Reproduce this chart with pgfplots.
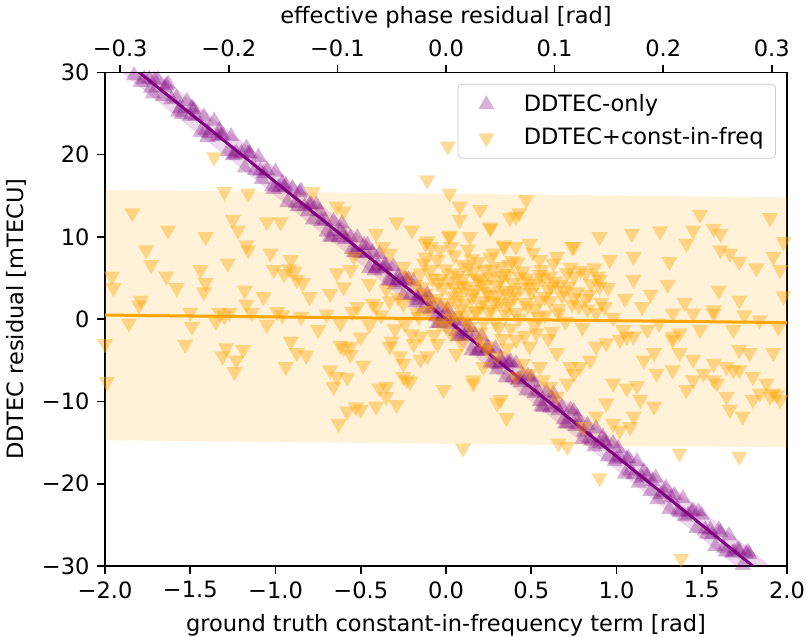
\documentclass[border=0pt]{standalone}
\usepackage{fontspec}
\setmainfont{DejaVu Sans}
\usepackage{pgfplots}
\pgfplotsset{compat=1.18}
\definecolor{mplorange}{HTML}{FFA500}
\definecolor{mplpurple}{HTML}{800080}

\pgfplotstableread{
x y
-1.83 29.6
-1.80 30.3
-1.77 29.2
-1.74 29.2
-1.72 27.4
-1.69 29.1
-1.66 27.1
-1.63 28.6
-1.61 26.7
-1.58 26.9
-1.55 24.9
-1.52 26.5
-1.50 24.7
-1.47 24.7
-1.44 22.7
-1.42 24.6
-1.39 22.6
-1.36 24.1
-1.34 22.2
-1.31 22.4
-1.28 20.4
-1.26 22.2
-1.23 20.2
-1.20 20.2
-1.18 18.4
-1.15 20.1
-1.12 18.1
-1.10 19.7
-1.07 17.7
-1.05 18.1
-1.02 16.1
-1.00 17.9
-0.98 16.0
-0.95 16.0
-0.93 14.2
-0.90 15.9
-0.88 14.1
-0.85 15.6
-0.83 13.7
-0.80 13.9
-0.78 12.1
-0.76 13.9
-0.73 11.9
-0.71 12.0
-0.68 10.0
-0.66 11.9
-0.63 9.9
-0.61 11.6
-0.59 9.7
-0.56 9.9
-0.54 8.1
-0.52 9.9
-0.50 8.0
-0.47 8.0
-0.45 6.2
-0.43 8.1
-0.41 6.2
-0.39 7.9
-0.37 6.1
-0.35 6.4
-0.33 4.6
-0.31 6.4
-0.29 4.5
-0.27 4.7
-0.25 2.9
-0.23 4.7
-0.21 2.9
-0.19 4.6
-0.17 2.7
-0.15 3.1
-0.13 1.3
-0.11 3.0
-0.09 1.2
-0.07 1.4
-0.05 -0.5
-0.03 1.4
-0.01 -0.4
0.01 1.2
0.03 -0.6
0.05 -0.2
0.07 -2.1
0.09 -0.3
0.11 -2.1
0.13 -2.0
0.15 -3.8
0.17 -1.9
0.19 -3.8
0.21 -2.1
0.23 -3.9
0.25 -3.6
0.27 -5.4
0.29 -3.6
0.31 -5.5
0.33 -5.3
0.35 -7.1
0.37 -5.3
0.39 -7.1
0.41 -5.4
0.43 -7.3
0.45 -6.9
0.47 -8.7
0.50 -7.1
0.52 -9.0
0.54 -8.8
0.56 -10.6
0.59 -8.9
0.61 -10.8
0.63 -9.1
0.66 -11.1
0.68 -10.7
0.71 -12.7
0.73 -11.0
0.76 -13.0
0.78 -12.8
0.80 -14.6
0.83 -12.9
0.85 -14.8
0.88 -13.3
0.90 -15.1
0.93 -14.9
0.95 -16.7
0.98 -15.1
1.00 -17.0
1.02 -16.8
1.05 -18.8
1.07 -16.9
1.10 -18.9
1.12 -17.3
1.15 -19.3
1.18 -19.1
1.20 -20.9
1.23 -19.3
1.26 -21.3
1.28 -21.1
1.31 -23.1
1.34 -21.4
1.36 -23.3
1.39 -21.8
1.42 -23.8
1.44 -23.4
1.47 -25.4
1.50 -23.8
1.52 -25.6
1.55 -25.6
1.58 -27.6
1.61 -25.9
1.63 -27.8
1.66 -26.3
1.69 -28.3
1.72 -28.1
1.74 -29.9
1.77 -28.3
1.80 -30.3
1.83 -30.3
-1.16 20.1
-1.08 17.0
-0.96 16.5
-0.87 13.7
-0.79 13.9
-0.70 10.6
-0.62 10.7
-0.55 8.5
-0.48 9.0
-0.42 5.9
-0.36 6.5
-0.30 4.2
-0.24 4.9
-0.18 2.0
-0.12 2.4
-0.06 0.3
0.00 0.8
0.06 -1.5
0.12 -1.0
0.18 -3.9
0.24 -3.5
0.30 -6.1
0.36 -5.3
0.42 -7.4
0.48 -6.9
0.55 -10.0
0.62 -9.7
0.70 -12.7
0.77 -11.9
0.84 -14.5
0.92 -14.3
0.99 -17.3
1.06 -17.0
1.13 -19.9
1.21 -19.7
1.29 -20.5
1.37 -23.5
1.45 -23.3
1.53 -26.1
1.60 -25.6
1.68 -28.4
1.76 -28.5
1.85 -30.1
-1.85 30.2
-1.25 19.9
-1.33 22.9
-1.41 23.0
-1.49 25.7
-1.57 25.2
-1.65 28.1
-1.73 28.1
-1.79 28.8
-1.71 29.0
-1.64 28.4
-1.56 25.6
-1.48 25.5
-1.40 22.1
-1.32 22.3
-1.24 20.0
-1.17 20.8
-1.09 18.0
-1.01 15.8
-0.94 16.2
-0.86 15.4
-0.81 13.1
-0.74 13.1
-0.67 10.0
-0.60 10.3
-0.53 8.1
-0.46 9.0
-0.40 6.5
-0.34 4.7
-0.28 5.2
-0.22 4.8
-0.16 2.3
-0.10 2.5
-0.04 -0.5
0.02 0.0
0.08 -2.0
0.14 -1.0
0.20 -3.5
0.26 -5.3
0.32 -4.8
0.38 -5.2
0.44 -7.7
0.51 -7.7
0.57 -10.7
0.64 -10.4
0.69 -12.2
0.75 -11.2
0.81 -13.7
0.87 -15.5
0.94 -15.2
1.01 -15.7
1.08 -18.4
1.16 -18.5
1.24 -21.9
1.32 -21.7
1.40 -24.0
1.48 -23.4
1.56 -26.2
1.64 -28.3
1.71 -28.0
1.78 -28.6
}\ddtecOnly

\pgfplotstableread{
x y
-1.84 12.9
-1.63 10.8
-1.76 8.4
-1.73 6.6
-1.96 5.2
-1.95 3.8
-1.79 2.3
-1.64 5.2
-1.58 3.8
-1.41 10.0
-1.44 6.0
-1.41 4.4
-1.42 3.3
-1.30 15.5
-1.36 19.7
-1.28 6.8
-1.25 12.1
-1.22 10.8
-1.18 3.5
-1.16 15.3
-1.16 8.4
-1.17 9.0
-1.07 2.7
-1.05 11.8
-1.03 8.0
-1.01 6.0
-1.86 -0.5
-1.80 1.7
-1.99 -7.6
-2.00 -3.0
-1.53 -3.1
-1.49 -0.9
-1.50 0.8
-1.35 -0.3
-1.33 0.8
-1.30 0.4
-1.29 -3.5
-1.23 -5.0
-1.19 -3.7
-1.31 -4.5
-1.24 -6.4
-1.17 1.8
-1.14 0.8
-1.05 -0.7
-1.27 0.8
-0.99 0.9
-0.96 0.5
-0.94 -5.8
-0.91 -2.7
-0.875 -4.1
-0.82 -4.4
-0.75 -1.3
-0.68 -6.2
-0.64 -7.0
-0.66 -8.2
-0.62 -3.2
-0.60 -3.5
-0.56 -4.3
-0.58 -7.1
-0.485 -5.6
-0.63 -12.7
-0.58 -11.2
-0.53 -10.7
-0.50 -11.0
-0.41 -10.6
-0.39 -8.4
-0.35 -9.4
-0.29 -10.4
-0.25 -7.0
-0.21 -7.6
-0.25 -5.4
-0.32 -2.7
-0.27 -4.5
-0.19 -3.0
-0.15 -4.9
-0.11 -4.5
-0.97 11.8
-0.91 7.2
-0.875 4.8
-0.84 4.4
-0.78 15.5
-0.64 13.7
-0.60 13.1
-0.80 2.7
-0.68 3.1
-0.64 5.6
-0.60 3.9
-0.56 6.0
-0.54 7.6
-0.41 10.4
-0.37 8.8
-0.29 11.8
-0.20 10.8
-0.11 16.9
-0.12 7.5
-0.12 9.2
-0.09 8.8
-0.035 8.4
-0.11 9.5
-0.09 6.0
-0.33 8.0
-0.25 6.4
-0.43 1.9
-0.33 2.2
-0.25 1.9
-0.95 5.5
-0.92 6.1
-0.89 5.8
-0.70 0.6
-0.55 0.9
-0.85 0.3
-0.45 -0.7
-0.38 0.5
-0.30 -1.2
-0.20 -1.8
-0.50 -2.2
-0.15 -2.1
-0.33 -3.3
-0.56 -3.3
-0.62 -0.5
-0.52 1.5
-0.41 1.5
-0.23 -7.4
-0.35 -8.2
-0.18 4.2
-0.15 5.6
-0.12 3.1
-0.10 1.0
-0.08 5.0
-0.06 2.5
-0.05 7.2
-0.04 -0.5
-0.02 3.8
0.00 6.1
0.01 1.5
0.02 4.6
0.03 -1.8
0.04 2.8
0.05 7.8
0.06 0.4
0.07 5.3
0.08 3.3
0.09 -2.9
0.10 6.6
0.11 1.9
0.12 4.0
0.13 8.5
0.14 -0.9
0.15 2.6
0.16 5.8
0.17 3.6
0.18 0.9
0.19 7.0
0.20 -1.6
0.21 4.5
0.22 2.2
0.23 6.0
0.24 -3.3
0.25 3.0
0.26 5.1
0.27 1.2
0.28 8.0
0.29 -0.4
0.30 4.1
0.31 2.0
0.32 6.4
0.33 -2.4
0.34 3.5
0.35 0.6
0.36 5.5
0.37 1.9
0.38 -1.1
0.39 4.4
0.40 2.7
0.42 6.9
0.43 0.1
0.44 3.8
0.46 -2.0
0.47 5.0
0.48 1.6
0.50 3.2
0.52 -0.8
0.53 4.3
0.55 2.3
0.56 6.0
0.58 0.5
0.60 3.6
0.62 -1.5
0.64 4.6
0.66 1.3
0.68 2.9
0.70 -0.3
0.72 4.0
0.74 1.8
0.77 3.3
0.80 -1.0
0.82 2.5
0.85 4.3
0.88 0.8
0.91 2.0
0.95 3.8
0.98 0.2
-0.16 0.3
-0.13 6.8
-0.07 -1.9
-0.03 4.9
0.00 -0.8
0.03 8.8
0.05 3.9
0.08 1.2
0.10 4.9
0.12 -0.3
0.15 7.3
0.17 1.0
0.19 4.8
0.22 -0.4
0.24 3.3
0.26 7.5
0.28 2.2
0.31 -1.0
0.33 5.3
0.36 3.1
0.39 7.1
0.41 0.8
0.45 5.8
0.49 3.9
0.51 8.1
0.54 0.3
0.57 5.0
0.61 2.2
0.63 6.8
0.67 4.2
0.71 5.6
0.75 2.6
0.79 5.9
0.83 1.2
0.87 6.2
0.82 5.6
-0.28 2.6
-0.22 5.2
-0.17 0.8
-0.14 3.9
-0.09 2.1
-0.05 4.4
-0.01 2.0
0.02 0.1
0.04 5.6
0.07 2.3
0.09 4.1
0.11 0.5
0.13 6.3
0.16 3.1
0.18 5.0
0.20 1.7
0.23 4.2
0.25 0.9
0.27 6.1
0.30 2.9
0.32 4.8
0.35 1.5
0.37 6.6
0.40 3.4
0.43 5.2
0.46 2.0
0.49 4.6
0.52 1.3
0.55 5.4
0.58 2.7
0.62 4.0
0.66 0.7
0.69 3.5
0.73 6.3
0.78 1.6
0.84 3.0
0.89 5.2
0.93 1.5
-0.24 -0.6
-0.35 3.6
-0.45 4.3
-0.05 -3.0
0.06 -4.2
0.20 -2.6
0.36 -3.5
0.60 -2.4
0.02 15.3
0.08 13.7
0.02 10.0
0.02 10.2
0.08 12.1
0.14 10.0
0.20 13.3
0.26 11.0
0.26 11.2
0.47 14.5
0.43 12.9
0.41 12.5
0.375 12.3
0.34 8.8
0.34 9.0
0.41 8.8
0.49 9.2
0.55 7.2
0.65 7.6
0.75 8.8
0.74 8.8
0.61 5.2
0.90 10.0
0.96 7.2
1.09 10.4
1.10 7.6
1.255 10.7
1.31 7.0
0.01 21.0
0.10 -15.7
-0.015 -8.6
0.16 -7.8
0.16 -7.4
0.30 -10.2
0.32 -9.8
0.355 -12.0
0.66 -15.1
0.71 -15.5
0.90 -19.3
0.805 -13.1
0.88 -11.8
0.94 -10.2
0.98 -12.7
1.02 -13.5
1.08 -13.1
1.10 -11.8
1.14 -9.8
1.22 -10.6
1.37 -16.3
1.72 -16.7
1.38 -29.1
1.06 -8.4
1.12 -8.1
0.98 -7.8
1.235 -6.6
1.33 -6.2
1.41 -8.6
1.45 -7.4
1.57 -7.4
1.645 -9.4
1.665 -11.0
1.74 -11.8
1.80 -9.8
1.84 -9.0
1.90 -9.4
1.94 -9.2
1.96 -9.8
1.92 -4.1
1.72 -3.7
1.84 -0.1
1.57 0.7
1.49 -1.3
1.37 -1.7
1.33 -2.5
1.22 -4.1
1.16 -5.0
1.06 -2.1
1.02 -2.5
0.94 -2.9
0.88 -3.3
0.845 -5.0
0.785 -5.8
0.75 -6.6
0.71 -7.8
0.55 -5.8
0.61 -8.2
0.65 -9.4
0.45 -5.4
0.41 -7.0
0.49 -6.6
0.24 -3.7
0.30 -4.5
0.22 -5.8
0.53 -1.7
0.65 -4.1
0.73 -5.8
0.49 -3.3
0.41 -2.5
0.57 -7.4
1.49 12.7
1.45 10.8
1.41 9.2
1.57 11.0
1.61 10.4
1.61 8.4
1.665 8.0
1.72 7.0
1.82 6.2
1.90 12.3
1.92 7.6
1.96 6.0
1.98 9.4
1.72 2.3
1.78 -4.1
1.685 -6.2
1.88 -7.8
1.92 -9.0
1.59 -7.8
1.51 -6.6
1.33 0.7
1.45 0.7
1.57 1.1
1.685 -1.3
1.04 -1.3
1.10 -2.1
1.18 -1.3
1.33 -2.1
1.37 -4.1
1.45 -4.9
1.57 -5.4
1.645 -5.8
1.72 -6.2
1.80 -7.0
1.10 4.8
0.90 4.0
0.90 4.8
0.75 5.2
1.20 3.0
1.30 4.2
1.05 2.5
1.15 1.5
1.25 -0.5
1.40 2.0
1.60 3.5
1.75 0.5
1.95 -1.0
1.98 2.8
}\ddtecConst

\begin{document}
\fontsize{11.3}{13.5}\selectfont
\begin{tikzpicture}
\begin{axis}[
  name=ax,
  scale only axis,
  width=341bp, height=246.85bp,
  xmin=-2, xmax=2, ymin=-30, ymax=30,
  xtick={-2,-1.5,-1,-0.5,0,0.5,1,1.5,2},
  xticklabels={−2.0,−1.5,−1.0,−0.5,0.0,0.5,1.0,1.5,2.0},
  ytick={-30,-20,-10,0,10,20,30},
  yticklabels={−30,−20,−10,0,10,20,30},
  xtick pos=bottom, ytick pos=left,
  tick align=outside,
  major tick length=3.8bp,
  tick style={black, line width=0.8bp},
  axis line style={line width=0.8bp},
  xlabel={ground truth constant-in-frequency term [rad]},
  ylabel={DDTEC residual [mTECU]},
  legend style={at={(1,1)}, anchor=north east, xshift=-5.5bp, yshift=-5.8bp,
    draw=black!20, rounded corners=2bp, fill=white, fill opacity=0.8, text opacity=1,
    inner xsep=4bp, inner ysep=3bp, row sep=2.5bp,
    nodes={inner sep=2bp},
    /tikz/every odd column/.append style={column sep=6.5bp}},
  legend image code/.code={%
    \path (0bp,0bp) (20bp,0bp);
    \draw[#1] plot coordinates {(10bp,0bp)};},
  legend cell align=left,
  clip=true,
]
\addplot[fill=mplorange, fill opacity=0.15, draw=none, forget plot]
  coordinates {(-2,15.7) (2,14.8) (2,-15.6) (-2,-14.7) (-2,15.7)};
\addplot[fill=mplpurple, fill opacity=0.15, draw=none, forget plot]
  coordinates {(-2,35.0) (2,-31.6) (2,-35.0) (-2,31.6) (-2,35.0)};
\addplot[only marks, color=mplpurple, mark=triangle*, mark size=4.7bp,
  mark options={draw opacity=0, fill=mplpurple, fill opacity=0.3}]
  table[x=x, y=y] {\ddtecOnly};
\addlegendentry{DDTEC-only}
\addplot[only marks, color=mplorange, mark=triangle*, mark size=4.7bp,
  mark options={rotate=180, draw opacity=0, fill=mplorange, fill opacity=0.4}]
  table[x=x, y=y] {\ddtecConst};
\addlegendentry{DDTEC+const-in-freq}
\addplot[mplorange, line width=1.5bp, forget plot] coordinates {(-2,0.5) (2,-0.42)};
\addplot[mplpurple, line width=1.5bp, forget plot] coordinates {(-2,33.34) (2,-33.34)};
\end{axis}
\begin{axis}[
  at={(ax.south west)}, anchor=south west,
  scale only axis,
  width=341bp, height=246.85bp,
  xmin=-0.314, xmax=0.314, ymin=-30, ymax=30,
  axis x line*=top, axis y line=none,
  xtick={-0.3,-0.2,-0.1,0,0.1,0.2,0.3},
  xticklabels={−0.3,−0.2,−0.1,0.0,0.1,0.2,0.3},
  tick align=outside,
  major tick length=3.8bp,
  tick style={black, line width=0.8bp},
  axis line style={line width=0.8bp},
  xlabel={effective phase residual [rad]},
  xlabel style={yshift=-2bp},
]
\end{axis}
\pgfresetboundingbox
\path[use as bounding box] (ax.south west) ++(-52.5bp,-35.5bp) rectangle ++(403bp,318.5bp);
\end{tikzpicture}
\end{document}
